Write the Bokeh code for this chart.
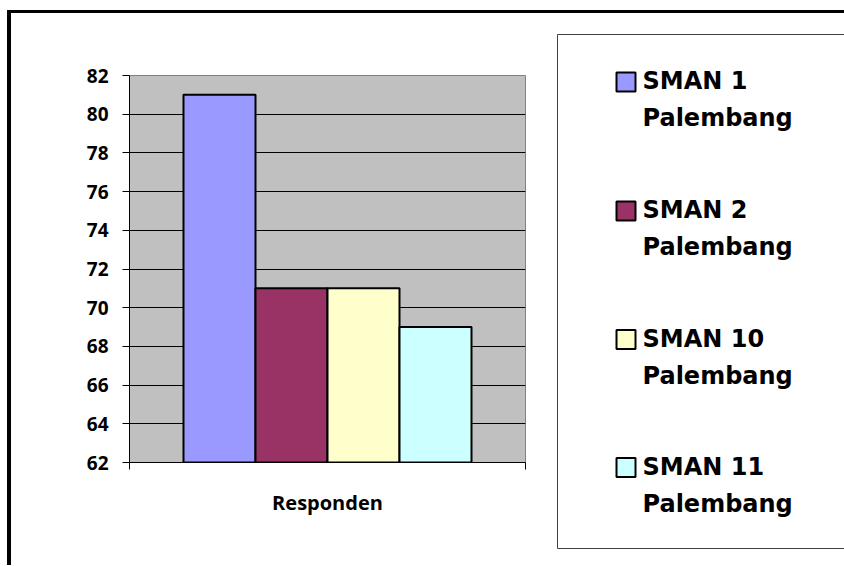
from bokeh.plotting import figure
from bokeh.models import Range1d, FixedTicker
from bokeh.layouts import row
from bokeh.embed import file_html
from bokeh.resources import INLINE
from bokeh.core.properties import value

# ---- data ----
categories = ["Responden"]
schools = ["SMAN 1 Palembang", "SMAN 2 Palembang", "SMAN 10 Palembang", "SMAN 11 Palembang"]
scores = [81, 71, 71, 69]
y_ticks = [62, 64, 66, 68, 70, 72, 74, 76, 78, 80, 82]

# ---- styles ----
colors = ["#9999FF", "#993366", "#FFFFCC", "#CCFFFF"]
FONT = "Open Sans"
LEG_FONT = "DejaVu Sans"

# ---- layout (page pixels) ----
H = 552
ORG_X, ORG_Y = 11, 13                 # canvas origin on page
FL, FT, FR, FB = 129, 75, 525, 462    # chart frame edges on page
SPLIT = 541                           # chart / legend boundary
RIGHT = 844

p = figure(width=SPLIT - ORG_X, height=H,
           x_range=Range1d(0, len(categories)),
           y_range=Range1d(y_ticks[0], y_ticks[-1]),
           output_backend="svg", toolbar_location=None,
           min_border_left=FL - ORG_X, min_border_top=FT - ORG_Y,
           min_border_right=SPLIT - FR, min_border_bottom=ORG_Y + H - FB)
p.background_fill_color = "#C0C0C0"
p.border_fill_color = "white"
p.outline_line_color = "#808080"
p.outline_line_width = 1

n = len(schools)
w = 1.0 / (n + 1.5)
xs = [0.5 + (i - (n - 1) / 2) * w for i in range(n)]
p.vbar(x=xs, top=scores, bottom=y_ticks[0], width=w,
       fill_color=colors, line_color="black", line_width=2)

p.ygrid.ticker = FixedTicker(ticks=y_ticks[1:-1], minor_ticks=[])
p.ygrid.grid_line_color = "black"
p.ygrid.grid_line_width = 1
p.xgrid.visible = False

p.yaxis.ticker = FixedTicker(ticks=y_ticks, minor_ticks=[])
p.yaxis.major_tick_in = 0
p.yaxis.major_tick_out = 7
p.yaxis.minor_tick_line_color = None
p.yaxis.axis_line_color = "black"
p.yaxis.major_tick_line_color = "black"
p.yaxis.major_label_text_font = FONT
p.yaxis.major_label_text_font_style = "bold"
p.yaxis.major_label_text_font_size = "19px"
p.yaxis.major_label_text_color = "black"
p.yaxis.major_label_standoff = 14

bounds = list(range(len(categories) + 1))
p.xaxis.ticker = FixedTicker(ticks=bounds, minor_ticks=[])
p.xaxis.major_label_overrides = {b: "" for b in bounds}
p.xaxis.major_label_text_font_size = "1px"
p.xaxis.major_tick_in = 0
p.xaxis.major_tick_out = 7
p.xaxis.minor_tick_line_color = None
p.xaxis.axis_line_color = "black"
p.xaxis.major_tick_line_color = "black"
p.xaxis.axis_label = categories[0]
p.xaxis.axis_label_text_font = FONT
p.xaxis.axis_label_text_font_style = "bold"
p.xaxis.axis_label_text_font_size = "20px"
p.xaxis.axis_label_text_color = "black"
p.xaxis.axis_label_standoff = 19

# ---- legend panel (its ranges are page pixels) ----
lg = figure(width=RIGHT - SPLIT, height=H,
            x_range=Range1d(SPLIT, RIGHT), y_range=Range1d(ORG_Y + H, ORG_Y),
            output_backend="svg", toolbar_location=None,
            x_axis_location=None, y_axis_location=None, min_border=0)
lg.grid.visible = False
lg.outline_line_color = None
lg.background_fill_color = "white"
lg.border_fill_color = "white"

for fig in (p, lg):
    if "frame_align" in fig.properties():
        fig.frame_align = False

# legend box: top, left and bottom edges (runs off the right edge of the page)
BOX_L, BOX_T, BOX_B = 557, 34, 548
BOX_R = RIGHT
lg.segment(x0=[BOX_L, BOX_L, BOX_L], y0=[BOX_T, BOX_T, BOX_B],
           x1=[BOX_R, BOX_L, BOX_R], y1=[BOX_T, BOX_B, BOX_B],
           line_color="#404040", line_width=1)

baselines = [89.5, 218.5, 347.0, 475.0]
line_gap = 37
text_shift = 9
line1 = [s.rsplit(" ", 1)[0] for s in schools]
line2 = [s.rsplit(" ", 1)[1] for s in schools]
lg.quad(left=[616] * n, right=[635] * n,
        top=[b - 17.5 for b in baselines], bottom=[b + 1.5 for b in baselines],
        fill_color=colors, line_color="black", line_width=2)
lg.text(x=[642] * n, y=[b - text_shift for b in baselines], text=line1,
        text_font=value(LEG_FONT),
        text_font_style="bold", text_font_size="24px", text_color="black",
        text_baseline="alphabetic", text_align="left")
lg.text(x=[642] * n, y=[b + line_gap - text_shift for b in baselines], text=line2,
        text_font=value(LEG_FONT),
        text_font_style="bold", text_font_size="24px", text_color="black",
        text_baseline="alphabetic", text_align="left")

layout = row(p, lg, styles={"border-left": "4px solid black",
                            "border-top": "3px solid black",
                            "margin-left": "7px",
                            "margin-top": "10px"})

open("out.html", "w").write(file_html(layout, INLINE))
